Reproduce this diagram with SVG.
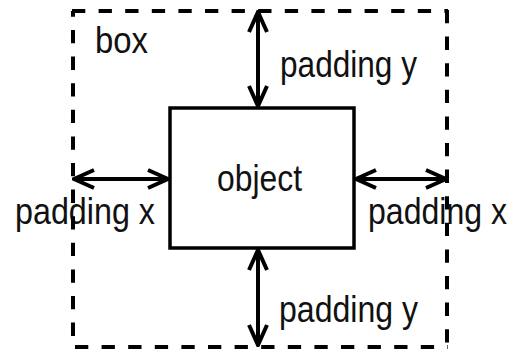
<svg xmlns="http://www.w3.org/2000/svg" width="513" height="351" viewBox="0 0 513 351">
<style>
.lbl{font-family:"Liberation Sans Narrow","Liberation Sans",Arial,sans-serif;font-size:37px;fill:#111}
.dash{stroke:#000;stroke-width:4;fill:none;stroke-dasharray:13.3 13.3}
.arr{stroke:#000;stroke-width:4;fill:none}
.head{stroke:#000;stroke-width:4;fill:none;stroke-linejoin:miter;stroke-linecap:butt}
</style>
<defs>
<marker id="ah" viewBox="0 0 12 12" refX="11" refY="6" markerWidth="24" markerHeight="24" markerUnits="userSpaceOnUse" orient="auto-start-reverse">
<path d="M1,1.5 L11,6 L1,10.5" fill="none" stroke="#000" stroke-width="2"/>
</marker>
</defs>
<g id="object">
<rect x="170" y="108" width="184" height="140" fill="#fff" stroke="#000" stroke-width="3.5"/>
<text class="lbl" x="217" y="191" textLength="85" lengthAdjust="spacingAndGlyphs">object</text>
</g>
<g id="labels">
<text class="lbl" x="95" y="53" textLength="53" lengthAdjust="spacingAndGlyphs">box</text>
<text class="lbl" x="280" y="77" textLength="137" lengthAdjust="spacingAndGlyphs">padding y</text>
<text class="lbl" x="279" y="322" textLength="139" lengthAdjust="spacingAndGlyphs">padding y</text>
<text class="lbl" x="15" y="224" textLength="140" lengthAdjust="spacingAndGlyphs">padding x</text>
<text class="lbl" x="368" y="224" textLength="139" lengthAdjust="spacingAndGlyphs">padding x</text>
</g>
<g id="box">
<line class="dash" x1="72" y1="11" x2="448" y2="11"/>
<line class="dash" x1="447" y1="10" x2="447" y2="347"/>
<line class="dash" x1="73" y1="11" x2="73" y2="347" style="stroke-dashoffset:7.6"/>
<line class="dash" x1="73" y1="347" x2="448" y2="347" style="stroke-dashoffset:-2"/>
</g>
<g id="connectors">
<line class="arr" x1="258" y1="12" x2="258" y2="106" marker-start="url(#ah)" marker-end="url(#ah)"/>
<line class="arr" x1="258" y1="250" x2="258" y2="345" marker-start="url(#ah)" marker-end="url(#ah)"/>
<line class="arr" x1="74" y1="179" x2="168" y2="179" marker-start="url(#ah)" marker-end="url(#ah)"/>
<line class="arr" x1="356" y1="179" x2="446" y2="179" marker-start="url(#ah)" marker-end="url(#ah)"/>
</g>
</svg>
